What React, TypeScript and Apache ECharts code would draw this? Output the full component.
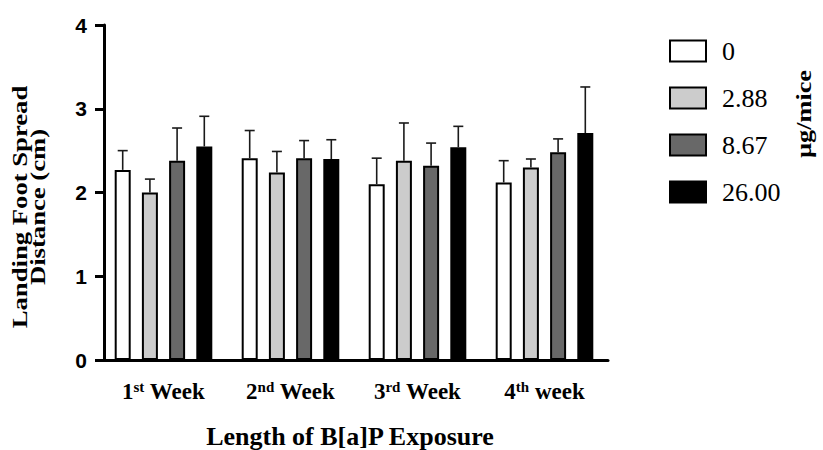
import React, { useEffect, useRef } from "react";
import * as echarts from "echarts";

const categories = ["1st Week", "2nd Week", "3rd Week", "4th week"];
const doses = ["0", "2.88", "8.67", "26.00"];
const doseColors = ["#ffffff", "#cccccc", "#686868", "#000000"];
// mean values per dose, per week
const mean0 = [2.27, 2.41, 2.1, 2.12];
const mean288 = [2.0, 2.24, 2.38, 2.3];
const mean867 = [2.38, 2.41, 2.32, 2.48];
const mean2600 = [2.55, 2.4, 2.54, 2.71];
// upper end of error bar (mean + SD)
const upper0 = [2.5, 2.74, 2.41, 2.38];
const upper288 = [2.16, 2.49, 2.83, 2.4];
const upper867 = [2.77, 2.62, 2.59, 2.64];
const upper2600 = [2.91, 2.63, 2.79, 3.26];
const yTicks = [0, 1, 2, 3, 4];

const means = [mean0, mean288, mean867, mean2600];
const uppers = [upper0, upper288, upper867, upper2600];

const BAR_W = 16;
const BAR_GAP = 0.7;

export default function App() {
  const ref = useRef<HTMLDivElement>(null);
  useEffect(() => {
    if (!ref.current) return;
    document.body.style.margin = "0";
    const chart = echarts.init(ref.current, null, { renderer: "svg" });
    const serif = "'Liberation Serif', 'Times New Roman', serif";
    const sans = "'Liberation Sans', Arial, sans-serif";

    const barSeries = doses.map((d, i) => ({
      name: d,
      type: "bar",
      data: means[i],
      barWidth: BAR_W,
      barGap: BAR_GAP * 100 + "%",
      itemStyle: { color: doseColors[i], borderColor: "#000", borderWidth: 2 },
      z: 2,
    }));

    const errData: number[][] = [];
    means.forEach((arr, s) => {
      arr.forEach((m, c) => {
        errData.push([c, s, m, uppers[s][c]]);
      });
    });

    const option: any = {
      animation: false,
      grid: { left: 100, right: 215, top: 25, bottom: 90, containLabel: false },
      legend: {
        orient: "vertical",
        left: 664,
        top: 33,
        itemWidth: 36,
        itemHeight: 21,
        itemGap: 21,
        icon: "rect",
        data: doses,
        itemStyle: { borderColor: "#000", borderWidth: 2 },
        textStyle: {
          fontFamily: serif,
          fontSize: 26,
          color: "#000",
          padding: [0, 0, 0, 11],
        },
      },
      xAxis: {
        type: "category",
        data: categories,
        axisLine: { lineStyle: { color: "#000", width: 3 } },
        axisTick: { alignWithLabel: true, length: 13, lineStyle: { width: 3, color: "#000" } },
        axisLabel: {
          interval: 0,
          margin: 19,
          formatter: (v: string) => {
            const m = v.match(/^(\d)(st|nd|rd|th) (.*)$/);
            if (!m) return v;
            return `{a|${m[1]}}{s|${m[2]}}{a| ${m[3]}}`;
          },
          rich: {
            a: { fontFamily: serif, fontWeight: "bold", fontSize: 23, color: "#000" },
            s: { fontFamily: serif, fontWeight: "bold", fontSize: 15, color: "#000", verticalAlign: "top", padding: [0, 0, 9, 0] },
          },
        },
      },
      yAxis: {
        type: "value",
        min: 0,
        max: 4,
        interval: 1,
        offset: -4,
        splitLine: { show: false },
        axisLine: { show: true, lineStyle: { color: "#000", width: 3 } },
        axisTick: { show: true, length: 9, lineStyle: { width: 3, color: "#000" } },
        axisLabel: {
          margin: 17,
          fontFamily: sans,
          fontWeight: "bold",
          fontSize: 21,
          color: "#000",
          formatter: (v: number) => (yTicks.includes(v) ? String(v) : ""),
        },
      },
      series: [
        ...barSeries,
        {
          type: "custom",
          name: "err",
          data: errData,
          encode: { x: 0, y: [2, 3] },
          z: 5,
          renderItem: (params: any, api: any) => {
            const c = api.value(0);
            const s = api.value(1);
            const m = api.value(2);
            const u = api.value(3);
            const base = api.coord([c, m]);
            const top = api.coord([c, u]);
            const pitch = BAR_W * (1 + BAR_GAP);
            const x = base[0] + (s - 1.5) * pitch;
            const style = { stroke: "#1a1a1a", lineWidth: 1.6 };
            return {
              type: "group",
              children: [
                { type: "line", shape: { x1: x, y1: base[1], x2: x, y2: top[1] }, style },
                { type: "line", shape: { x1: x - 5, y1: top[1], x2: x + 5, y2: top[1] }, style },
              ],
            };
          },
        },
      ],
      graphic: [
        {
          type: "text",
          x: 29,
          y: 207,
          rotation: Math.PI / 2,
          scaleX: 1.27,
          style: {
            text: "Landing Foot Spread\nDistance (cm)",
            font: `bold 21px ${serif}`,
            lineHeight: 18,
            fill: "#000",
            align: "center",
            verticalAlign: "middle",
          },
        },
        {
          type: "text",
          x: 350,
          y: 436,
          style: {
            text: "Length of B[a]P Exposure",
            font: `bold 26px ${serif}`,
            fill: "#000",
            align: "center",
            verticalAlign: "middle",
          },
        },
        {
          type: "text",
          x: 804,
          y: 114,
          rotation: Math.PI / 2,
          scaleX: 1.25,
          style: {
            text: "µg/mice",
            font: `bold 21px ${serif}`,
            fill: "#000",
            align: "center",
            verticalAlign: "middle",
          },
        },
      ],
    };
    chart.setOption(option);
    return () => chart.dispose();
  }, []);
  return <div ref={ref} style={{ width: 823, height: 450 }} />;
}
